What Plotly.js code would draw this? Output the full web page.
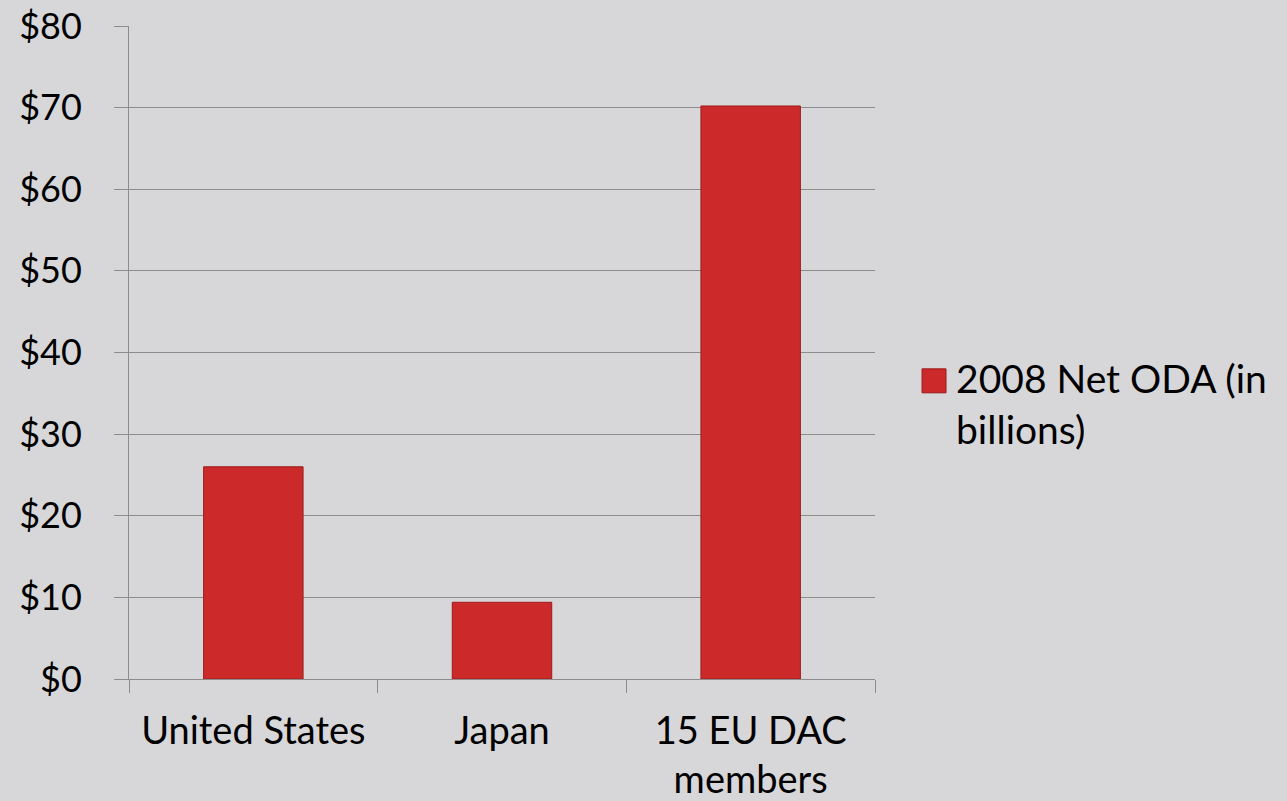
<!DOCTYPE html>
<html>
<head>
<meta charset="utf-8">
<script src="https://cdn.plot.ly/plotly-3.0.1.min.js"></script>
<style>
html, body { margin: 0; padding: 0; background: #d7d7d9; }
#chart { width: 1287px; height: 801px; }
</style>
</head>
<body>
<div id="chart"></div>
<script>
const categories = ['United States', 'Japan', '15 EU DAC<br>members'];
const netODA2008 = [26.0, 9.4, 70.2];
const seriesName = '2008 Net ODA (in<br>billions)';
const yTickValues = [0, 10, 20, 30, 40, 50, 60, 70, 80];
const yTickLabels = ['$0', '$10', '$20', '$30', '$40', '$50', '$60', '$70', '$80'];

const trace = {
  type: 'bar',
  x: categories,
  y: netODA2008,
  name: seriesName,
  showlegend: true,
  marker: { color: '#cb292a', line: { color: '#9e1c1c', width: 1 } }
};

const fam = 'Lato, "Open Sans", sans-serif';

const layout = {
  width: 1287,
  height: 801,
  paper_bgcolor: '#d7d7d9',
  plot_bgcolor: '#d7d7d9',
  font: { family: fam, size: 39, color: '#000000' },
  margin: { l: 129, r: 412, t: 26, b: 122 },
  bargap: 0.6,
  showlegend: true,
  legend: {
    x: 1.055, xanchor: 'left', y: 0.51, yanchor: 'top',
    valign: 'top',
    bgcolor: 'rgba(0,0,0,0)',
    font: { family: fam, size: 39, color: '#000000' },
    itemwidth: 30
  },
  xaxis: {
    type: 'category',
    showline: true, linecolor: '#8c8c8c', linewidth: 1,
    ticks: 'outside', tickson: 'boundaries', ticklen: 13, tickcolor: '#8c8c8c', tickwidth: 1,
    showgrid: false,
    tickfont: { family: fam, size: 38, color: '#000000' },
    ticklabelstandoff: 18
  },
  yaxis: {
    range: [0, 80],
    tickmode: 'array',
    tickvals: yTickValues,
    ticktext: yTickLabels,
    showline: true, linecolor: '#8c8c8c', linewidth: 1,
    ticks: 'outside', ticklen: 14, tickcolor: '#8c8c8c', tickwidth: 1,
    showgrid: true, gridcolor: '#8c8c8c', gridwidth: 1,
    zeroline: false,
    tickfont: { family: fam, size: 36, color: '#000000' },
    ticklabelstandoff: 25
  }
};

Plotly.newPlot('chart', [trace], layout, { displayModeBar: false, staticPlot: true }).then(function (gd) {
  gd.querySelectorAll('.legendpoints path').forEach(function (p) {
    p.setAttribute('d', 'M10,15H-14V-9H10Z');
  });
});
</script>
</body>
</html>
